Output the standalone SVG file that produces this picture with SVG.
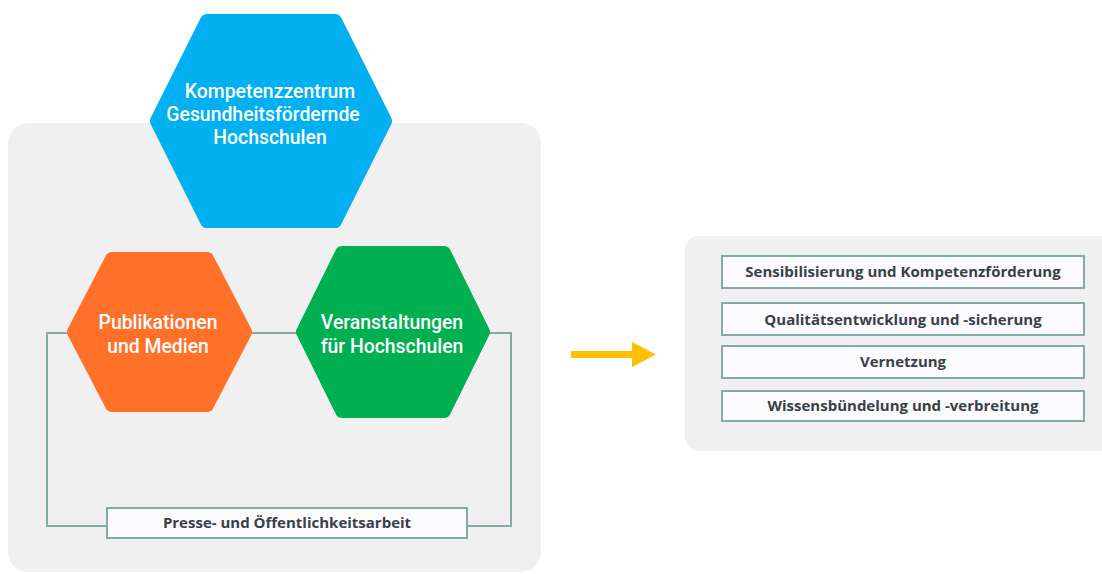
<svg xmlns="http://www.w3.org/2000/svg" width="1102" height="574" viewBox="0 0 1102 574">
<style>
.panel{fill:#f0f0f0}
.hex{stroke-width:14;stroke-linejoin:round}
.htxt{font-family:Roboto,"Liberation Sans",sans-serif;font-size:19.4px;font-weight:500;fill:#ffffff;text-anchor:middle}
.box{fill:#fbfbfe;stroke:#86aaa8;stroke-width:2}
.btxt{font-family:"Open Sans","Liberation Sans",sans-serif;font-size:15px;font-weight:700;fill:#3a3f46;text-anchor:middle}
.conn{fill:none;stroke:#86aaa8;stroke-width:2}
</style>
<rect class="panel" x="8" y="123" width="533" height="449" rx="20"/>
<rect class="panel" x="685" y="236" width="440" height="215" rx="14"/>
<g id="connectors">
<polyline class="conn" points="74,333 47,333 47,526 107,526"/>
<line class="conn" x1="245" y1="333" x2="303" y2="333"/>
<polyline class="conn" points="483,333 511,333 511,526 467,526"/>
<g id="arrow">
<rect x="571" y="351" width="64" height="7" fill="#ffc000"/>
<polygon points="632,342 656,354.5 632,367" fill="#ffc000"/>
</g>
</g>
<g id="kompetenzzentrum">
<polygon class="hex" fill="#00b0f0" stroke="#00b0f0" points="207,21 335,21 385,121 335,221 207,221 157,121"/>
<text class="htxt" x="270" y="98">Kompetenzzentrum</text>
<text class="htxt" x="263" y="121">Gesundheitsfördernde</text>
<text class="htxt" x="270" y="144">Hochschulen</text>
</g>
<g id="publikationen">
<polygon class="hex" fill="#ff7029" stroke="#ff7029" points="112,259 207,259 245,332 207,405 112,405 74,332"/>
<text class="htxt" x="158" y="329">Publikationen</text>
<text class="htxt" x="158" y="353">und Medien</text>
</g>
<g id="veranstaltungen">
<polygon class="hex" fill="#00b050" stroke="#00b050" points="342,253 444,253 483,332 444,411 342,411 303,332"/>
<text class="htxt" x="392" y="329">Veranstaltungen</text>
<text class="htxt" x="392" y="353">für Hochschulen</text>
</g>
<g id="presse">
<rect class="box" x="107" y="508" width="360" height="30"/>
<text class="btxt" x="287" y="528">Presse- und Öffentlichkeitsarbeit</text>
</g>
<g id="sensibilisierung">
<rect class="box" x="722" y="256" width="362" height="32"/>
<text class="btxt" x="903" y="277">Sensibilisierung und Kompetenzförderung</text>
</g>
<g id="qualitaet">
<rect class="box" x="722" y="303" width="362" height="32"/>
<text class="btxt" x="903" y="325">Qualitätsentwicklung und -sicherung</text>
</g>
<g id="vernetzung">
<rect class="box" x="722" y="346" width="362" height="32"/>
<text class="btxt" x="903" y="367">Vernetzung</text>
</g>
<g id="wissen">
<rect class="box" x="722" y="391" width="362" height="30"/>
<text class="btxt" x="903" y="411">Wissensbündelung und -verbreitung</text>
</g>
</svg>
